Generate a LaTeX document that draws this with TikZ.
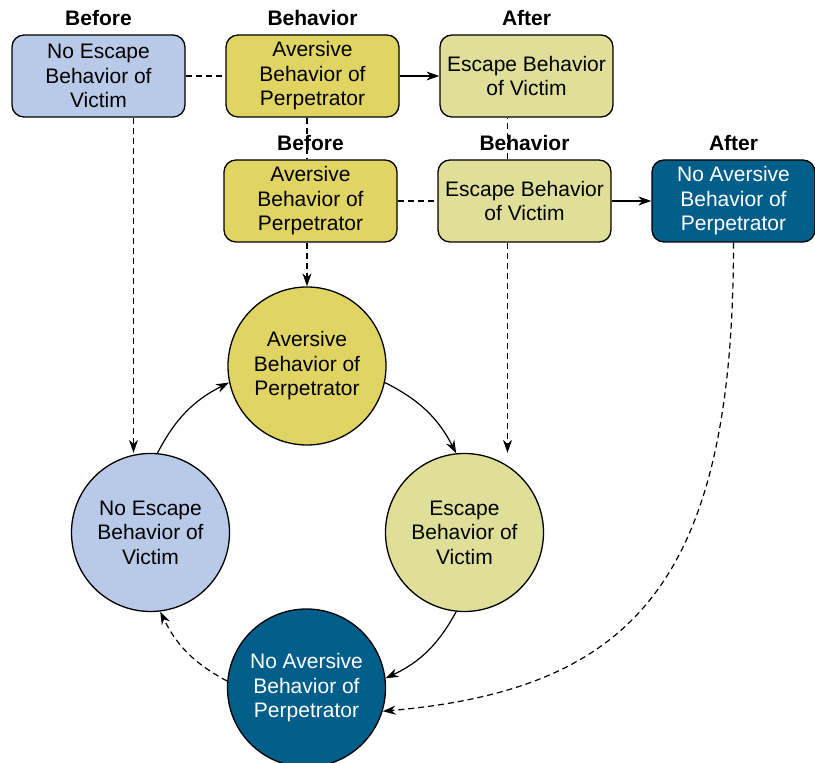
\documentclass[tikz,border=0pt]{standalone}
\usepackage{fontspec}
\setmainfont{Liberation Sans}
\usetikzlibrary{positioning, arrows.meta}
\definecolor{paleblue}{RGB}{185,202,232}
\definecolor{mustard}{RGB}{224,212,98}
\definecolor{straw}{RGB}{223,223,153}
\definecolor{deepblue}{RGB}{0,94,138}

\begin{document}
\begin{tikzpicture}[x=1pt,y=1pt,
  every node/.style={font=\fontsize{21}{24.5}\selectfont,align=center,inner sep=0pt},
  box/.style={draw,line width=1.3pt,rounded corners=12pt,minimum width=173pt,minimum height=82pt},
  ring/.style={draw,line width=1.3pt,circle,minimum size=158pt},
  head/.style={font=\fontsize{21}{24.5}\selectfont\bfseries,above=8pt of #1},
  link/.style={line width=1.2pt,-{Stealth[length=13pt,width=9pt]}},
  faint/.style={line width=1.2pt,dash pattern=on 6pt off 4pt}]
  \useasboundingbox (0,0) rectangle (815,763);
  \path (98.5,687) node[box,fill=paleblue] (b1) {No Escape\\Behavior of\\Victim}
  (312.5,687) node[box,fill=mustard] (b2) {Aversive\\Behavior of\\Perpetrator}
  (526.5,687) node[box,fill=straw] (b3) {Escape Behavior\\of Victim}
  (310.5,562) node[box,fill=mustard] (b4) {Aversive\\Behavior of\\Perpetrator}
  (524.5,562) node[box,fill=straw] (b5) {Escape Behavior\\of Victim}
  (733.5,562) node[box,fill=deepblue,text=white,minimum width=163pt] (b6) {No Aversive\\Behavior of\\Perpetrator};
  \node[head=b1] (h1) {Before};
  \node[head=b2] (h2) {Behavior};
  \node[head=b3] (h3) {After};
  \node[head=b4] (h4) {Before};
  \node[head=b5] (h5) {Behavior};
  \node[head=b6] (h6) {After};
  \path (307,397) node[ring,fill=mustard] (c1) {Aversive\\Behavior of\\Perpetrator}
  (464.5,230.5) node[ring,fill=straw] (c2) {Escape\\Behavior of\\Victim}
  (306.5,75) node[ring,fill=deepblue,text=white] (c3) {No Aversive\\Behavior of\\Perpetrator}
  (150.5,230.5) node[ring,fill=paleblue] (c4) {No Escape\\Behavior of\\Victim};
  \draw[faint] (b1) -- (b2);
  \draw[link] (b2) -- (b3);
  \draw[faint] (b4) -- (b5);
  \draw[link] (b5) -- (b6);
  \draw[faint] (b2.south -| c1) -- (b4.north -| c1);
  \draw[faint] ([xshift=-17pt]b5.north) -- ([xshift=-17pt]b5.north |- b3.south);
  \draw[link,faint] (b4.south -| c1) -- (c1);
  \draw[link,faint] ([xshift=-17pt]b5.south) -- ([xshift=-17pt]b5.south |- c2.north);
  \draw[link,faint] ([xshift=35pt]b1.south) -- ([xshift=35pt]b1.south |- c4.north);
  \draw[link,faint] (b6.south) .. controls +(0,-340) and +(250,22) .. (c3.-17);
  \draw[link] (c4.85) to[bend left=18] (c1.192);
  \draw[link] (c1.-12) to[bend left=18] (c2.96);
  \draw[link] (c2.264) to[bend left=18] (c3.7);
  \draw[link,faint] (c3.175) to[bend left=18] (c4.-83);
\end{tikzpicture}
\end{document}
